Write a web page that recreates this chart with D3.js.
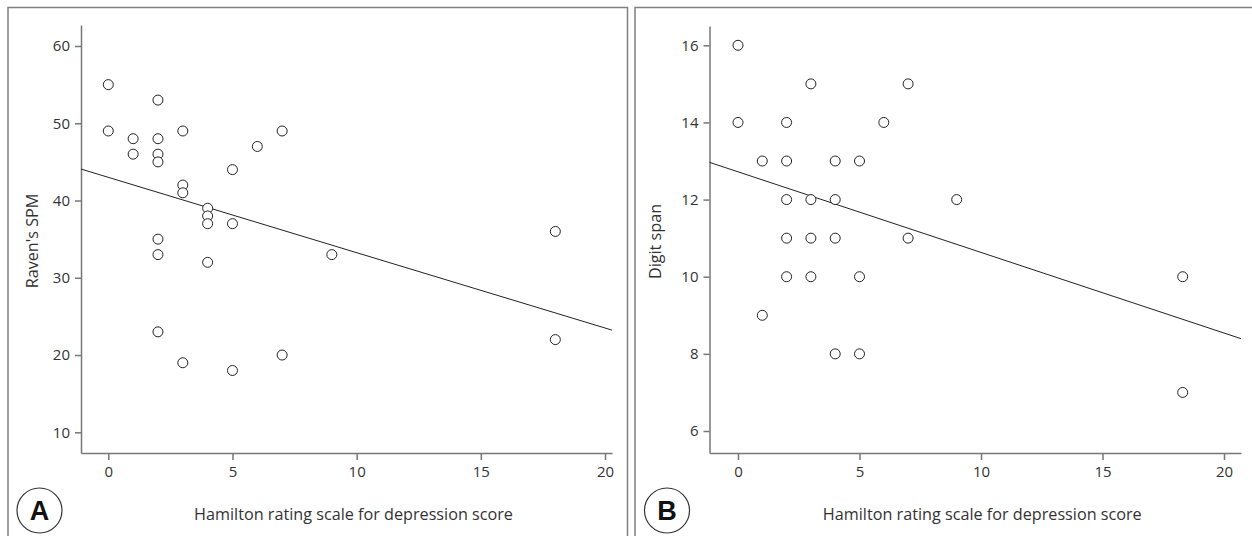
<!DOCTYPE html>
<html lang="en">
  <head>
    <meta charset="utf-8">
    <title>Hamilton depression score vs cognition</title>
    <style>
      body { margin: 0; background: #fff; }
      svg { display: block; }
      .tick text { fill: #333; font-family: "Open Sans", sans-serif; font-size: 15px; }
      .axis path, .axis line { stroke: #777; stroke-width: 1.5; }
      .title { fill: #333; font-family: "Open Sans", sans-serif; font-size: 16.2px; }
      .badge text { font-family: "Liberation Sans", Arial, sans-serif; font-weight: bold; font-size: 27px; fill: #111; }
    </style>
  </head>
  <body>
    <div class="chart"></div>
    <script src="https://cdn.jsdelivr.net/npm/d3@7"></script>
    <script type="text/javascript">
      // panel A: Raven's SPM vs HAM-D
      var hamA   = [0, 0, 1, 1, 2, 2, 2, 2, 3, 3, 3, 4, 4, 4, 5, 5, 6, 7, 2, 2, 4, 2, 3, 5, 7, 18, 9, 18];
      var ravenA = [55, 49, 48, 46, 53, 48, 46, 45, 49, 42, 41, 39, 38, 37, 44, 37, 47, 49, 35, 33, 32, 23, 19, 18, 20, 36, 33, 22];
      var fitA = {intercept: 43.0, slope: -0.975};

      // panel B: Digit span vs HAM-D
      var hamB   = [0, 0, 1, 2, 2, 2, 2, 3, 3, 3, 4, 4, 4, 5, 6, 7, 7, 9, 2, 3, 5, 1, 4, 5, 18.3, 18.3];
      var digitB = [16, 14, 13, 14, 13, 12, 11, 15, 12, 11, 13, 12, 11, 13, 14, 15, 11, 12, 10, 10, 10, 9, 8, 8, 10, 7];
      var fitB = {intercept: 12.72, slope: -0.209};

      var xTicks  = [0, 5, 10, 15, 20];
      var yTicksA = [10, 20, 30, 40, 50, 60];
      var yTicksB = [6, 8, 10, 12, 14, 16];

      var xTitle = "Hamilton rating scale for depression score";

      var W = 1252, H = 536;

      var svg = d3.select(".chart").append("svg")
          .attr("width", W)
          .attr("height", H);

      // scale from two tick anchors, then stretched to the axis ends
      function anchored(d0, d1, r0, r1, lo, hi) {
        var s = d3.scaleLinear().domain([d0, d1]).range([r0, r1]);
        return d3.scaleLinear().domain([s.invert(lo), s.invert(hi)]).range([lo, hi]);
      }

      var panels = [
        { letter: "A", xs: hamA, ys: ravenA, fit: fitA, yTicks: yTicksA, yTitle: "Raven's SPM",
          frameL: 8, frameR: 627.5, titleX: 32, badgeX: 39.5,
          x: anchored(0, 20, 108.3, 605, 81, 612),
          y: anchored(10, 60, 432.3, 46, 453, 25) },
        { letter: "B", xs: hamB, ys: digitB, fit: fitB, yTicks: yTicksB, yTitle: "Digit span",
          frameL: 635, frameR: 1300, titleX: 655, badgeX: 667,
          x: anchored(0, 20, 738, 1224, 709.5, 1241),
          y: anchored(6, 16, 431, 45.3, 453, 26) }
      ];

      panels.forEach(function(p) {
        var g = svg.append("g");

        // frame (bottom runs off the page)
        g.append("path")
            .attr("d", "M" + p.frameL + "," + H + "V7.5H" + p.frameR + "V" + H)
            .attr("fill", "none")
            .attr("stroke", "#808080")
            .attr("stroke-width", 1.5);

        var x = p.x, y = p.y;
        var x0 = x.range()[0], yBase = y.range()[0];

        g.append("g")
            .attr("class", "axis")
            .attr("transform", "translate(0," + yBase + ")")
            .call(d3.axisBottom(x).tickValues(xTicks).tickSizeInner(7).tickSizeOuter(0).tickPadding(6));

        g.append("g")
            .attr("class", "axis")
            .attr("transform", "translate(" + x0 + ",0)")
            .call(d3.axisLeft(y).tickValues(p.yTicks).tickSizeInner(6).tickSizeOuter(0).tickPadding(5));

        // regression line
        var xd = x.domain();
        g.append("line")
            .attr("x1", x(xd[0]))
            .attr("y1", y(p.fit.intercept + p.fit.slope * xd[0]))
            .attr("x2", x(xd[1]))
            .attr("y2", y(p.fit.intercept + p.fit.slope * xd[1]))
            .attr("stroke", "#222")
            .attr("stroke-width", 1);

        g.append("g").selectAll("circle")
            .data(p.xs.map(function(v, i) { return [v, p.ys[i]]; }))
            .enter().append("circle")
            .attr("cx", function(d) { return x(d[0]); })
            .attr("cy", function(d) { return y(d[1]); })
            .attr("r", 5)
            .attr("fill", "#fff")
            .attr("stroke", "#222")
            .attr("stroke-width", 1);

        g.append("text")
            .attr("class", "title")
            .attr("text-anchor", "middle")
            .attr("x", (x.range()[0] + x.range()[1]) / 2 + 7)
            .attr("y", 520)
            .text(xTitle);

        g.append("text")
            .attr("class", "title")
            .attr("text-anchor", "middle")
            .attr("transform", "translate(" + (p.titleX + 6) + "," + ((y.range()[0] + y.range()[1]) / 2 + 2) + ") rotate(-90)")
            .text(p.yTitle);

        var badge = g.append("g").attr("class", "badge");
        badge.append("circle")
            .attr("cx", p.badgeX)
            .attr("cy", 510.5)
            .attr("r", 22.5)
            .attr("fill", "#fff")
            .attr("stroke", "#333")
            .attr("stroke-width", 1.2);
        badge.append("text")
            .attr("x", p.badgeX)
            .attr("y", 510.5)
            .attr("dy", "0.36em")
            .attr("text-anchor", "middle")
            .text(p.letter);
      });
    </script>
  </body>
</html>
